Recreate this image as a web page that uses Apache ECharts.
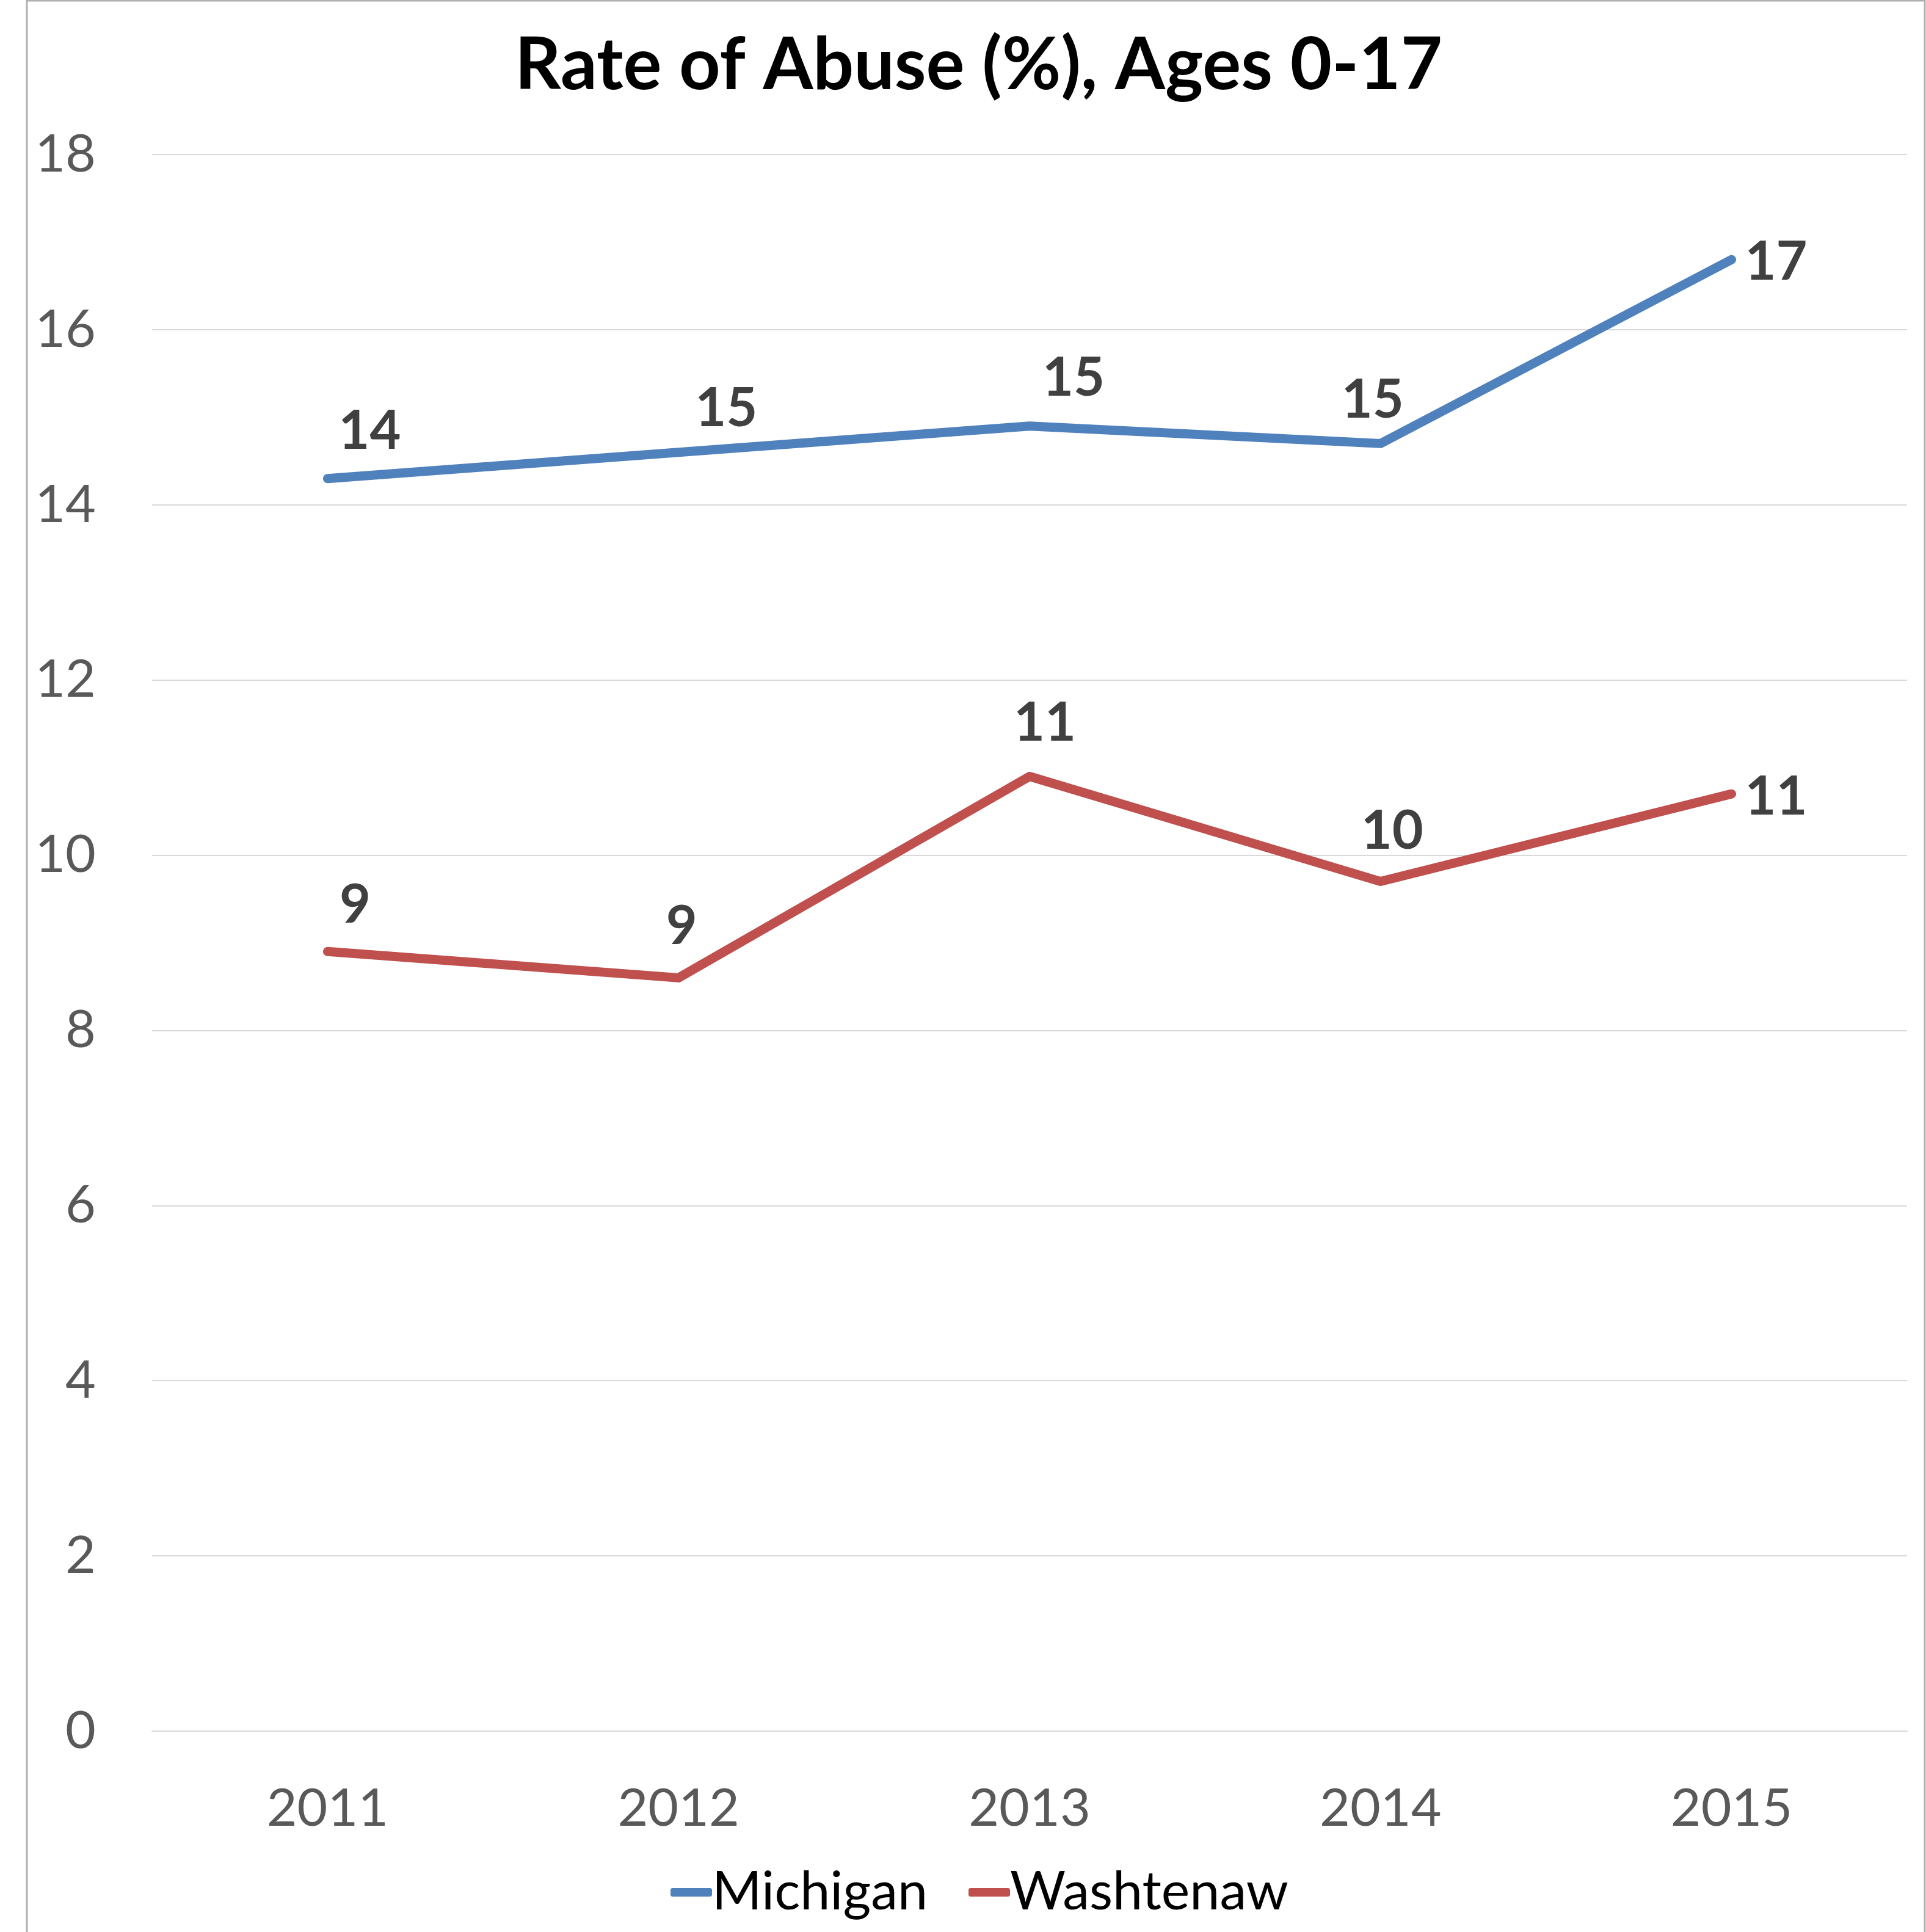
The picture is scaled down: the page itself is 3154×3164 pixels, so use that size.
<!DOCTYPE html>
<html>
<head>
<meta charset="utf-8">
<script src="https://cdn.jsdelivr.net/npm/echarts@6/dist/echarts.min.js"></script>
<style>
html,body{margin:0;padding:0;background:#fff;}
#chart{width:3154px;height:3164px;}
</style>
</head>
<body>
<div id="chart"></div>
<script>
const categories = ['2011', '2012', '2013', '2014', '2015'];
const michigan = [14.3, 14.6, 14.9, 14.7, 16.8];
const washtenaw = [8.9, 8.6, 10.9, 9.7, 10.7];
const yTicks = { min: 0, max: 18, interval: 2 };

// label placement (style only): offset of label centre from its point
const michiganLabelOffsets = [[69, -77], [78, -71], [72, -78], [-13, -71], [73, 4]];
const washtenawLabelOffsets = [[45, -76], [5, -84], [25, -87], [19, -82], [73, 5]];

const FONT = 'Lato';

function buildData(values, offsets) {
  return values.map((v, i) => ({
    value: v,
    label: { offset: offsets[i] }
  }));
}

const chart = echarts.init(document.getElementById('chart'), null, { renderer: 'canvas' });

const labelStyle = {
  show: true,
  position: 'inside',
  formatter: p => Math.round(p.value),
  color: '#404040',
  fontFamily: FONT,
  fontWeight: 'bold',
  fontSize: 88
};

chart.setOption({
  backgroundColor: '#ffffff',
  animation: false,
  graphic: [{
    type: 'rect',
    shape: { x: 44, y: 1, width: 3108, height: 3200 },
    style: { fill: 'none', stroke: '#b0b0b0', lineWidth: 3 },
    silent: true
  }],
  title: {
    text: 'Rate of Abuse (%), Ages 0-17',
    left: 838,
    top: 44,
    textStyle: { fontFamily: FONT, fontWeight: 'bold', fontSize: 118, color: '#000000' }
  },
  legend: {
    data: ['Michigan', 'Washtenaw'],
    left: 1093,
    top: 3050,
    icon: 'roundRect',
    itemWidth: 68,
    itemHeight: 14,
    itemGap: 67,
    textStyle: { fontFamily: FONT, fontSize: 88, color: '#000000', padding: [0, 0, 0, -5] }
  },
  grid: { left: 249, right: 31, top: 253, bottom: 329, containLabel: false },
  xAxis: {
    type: 'category',
    data: categories,
    boundaryGap: true,
    axisLine: { show: true, lineStyle: { color: '#d9d9d9', width: 2 } },
    axisTick: { show: false },
    axisLabel: { margin: 84, fontFamily: FONT, fontSize: 86, color: '#595959' }
  },
  yAxis: {
    type: 'value',
    min: yTicks.min,
    max: yTicks.max,
    interval: yTicks.interval,
    axisLine: { show: false },
    axisTick: { show: false },
    splitLine: { lineStyle: { color: '#d9d9d9', width: 2 } },
    axisLabel: { margin: 92, fontFamily: FONT, fontSize: 86, color: '#595959' }
  },
  series: [
    {
      name: 'Michigan',
      type: 'line',
      data: buildData(michigan, michiganLabelOffsets),
      symbol: 'circle',
      symbolSize: 1,
      showSymbol: true,
      color: '#4F81BD',
      lineStyle: { color: '#4F81BD', width: 15, cap: 'round', join: 'round' },
      itemStyle: { color: '#4F81BD' },
      label: labelStyle
    },
    {
      name: 'Washtenaw',
      type: 'line',
      data: buildData(washtenaw, washtenawLabelOffsets),
      symbol: 'circle',
      symbolSize: 1,
      showSymbol: true,
      color: '#C0504D',
      lineStyle: { color: '#C0504D', width: 15, cap: 'round', join: 'round' },
      itemStyle: { color: '#C0504D' },
      label: labelStyle
    }
  ]
});
</script>
</body>
</html>
